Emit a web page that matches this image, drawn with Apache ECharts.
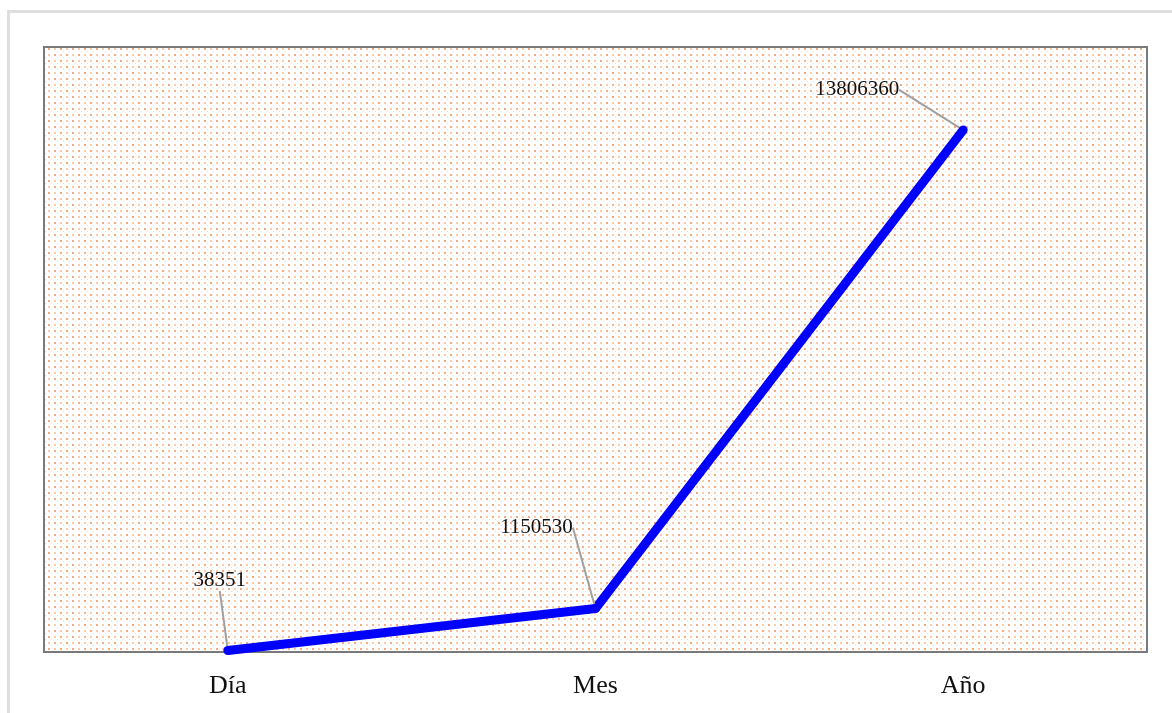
<!DOCTYPE html>
<html>
<head>
<meta charset="utf-8">
<script src="https://cdn.jsdelivr.net/npm/echarts@6/dist/echarts.min.js"></script>
<style>
html,body{margin:0;padding:0;background:#fff;overflow:hidden;}
#frame{position:absolute;left:7px;top:10px;width:1300px;height:900px;border:3px solid #dedede;box-sizing:border-box;}
#main{position:absolute;left:0;top:0;width:1172px;height:713px;}
</style>
</head>
<body>
<div id="frame"></div>
<div id="main"></div>
<script>
const categories = ['Día', 'Mes', 'Año'];
const values = [38351, 1150530, 13806360];
const labelOffsets = [[-8, -50], [-59, -61], [-106, -20]];

function makePattern() {
  const c = document.createElement('canvas');
  c.width = 12; c.height = 12;
  const g = c.getContext('2d');
  g.fillStyle = '#ffffff';
  g.fillRect(0, 0, 12, 12);
  g.fillStyle = 'rgba(247,140,80,0.75)';
  g.fillRect(0, 0, 2, 2);
  g.fillRect(6, 6, 2, 2);
  g.fillStyle = 'rgba(247,140,80,0.45)';
  g.fillRect(6, 0, 2, 2);
  g.fillRect(0, 6, 2, 2);
  g.fillStyle = 'rgba(247,140,80,0.35)';
  g.fillRect(3, 3, 1, 1);
  g.fillRect(9, 9, 1, 1);
  g.fillRect(9, 3, 1, 1);
  g.fillRect(3, 9, 1, 1);
  return c;
}

const chart = echarts.init(document.getElementById('main'), null, {renderer: 'canvas'});
chart.setOption({
  animation: false,
  backgroundColor: 'transparent',
  grid: {
    left: 44, top: 47, right: 25, bottom: 61,
    show: true,
    borderColor: '#7a7a7a',
    borderWidth: 2,
    backgroundColor: {image: makePattern(), repeat: 'repeat'}
  },
  xAxis: {
    type: 'category',
    data: categories,
    boundaryGap: true,
    axisLine: {show: true, lineStyle: {color: '#7a7a7a', width: 2}},
    axisTick: {show: false},
    axisLabel: {fontFamily: 'Liberation Serif', fontSize: 26, color: '#111', margin: 21}
  },
  yAxis: {
    type: 'value',
    min: 0,
    max: 16000000,
    show: false,
    splitLine: {show: false}
  },
  series: [{
    type: 'line',
    data: values,
    symbol: 'circle',
    symbolSize: 9,
    showSymbol: true,
    itemStyle: {color: '#0000ff'},
    lineStyle: {color: '#0000ff', width: 9},
    label: {
      show: true,
      position: 'top',
      fontFamily: 'Liberation Serif',
      fontSize: 21,
      color: '#111'
    },
    labelLine: {show: true, lineStyle: {color: '#a0a0a0', width: 2}},
    labelLayout: function (p) {
      const o = labelOffsets[p.dataIndex];
      return {dx: o[0], dy: o[1]};
    }
  }]
});
</script>
</body>
</html>
